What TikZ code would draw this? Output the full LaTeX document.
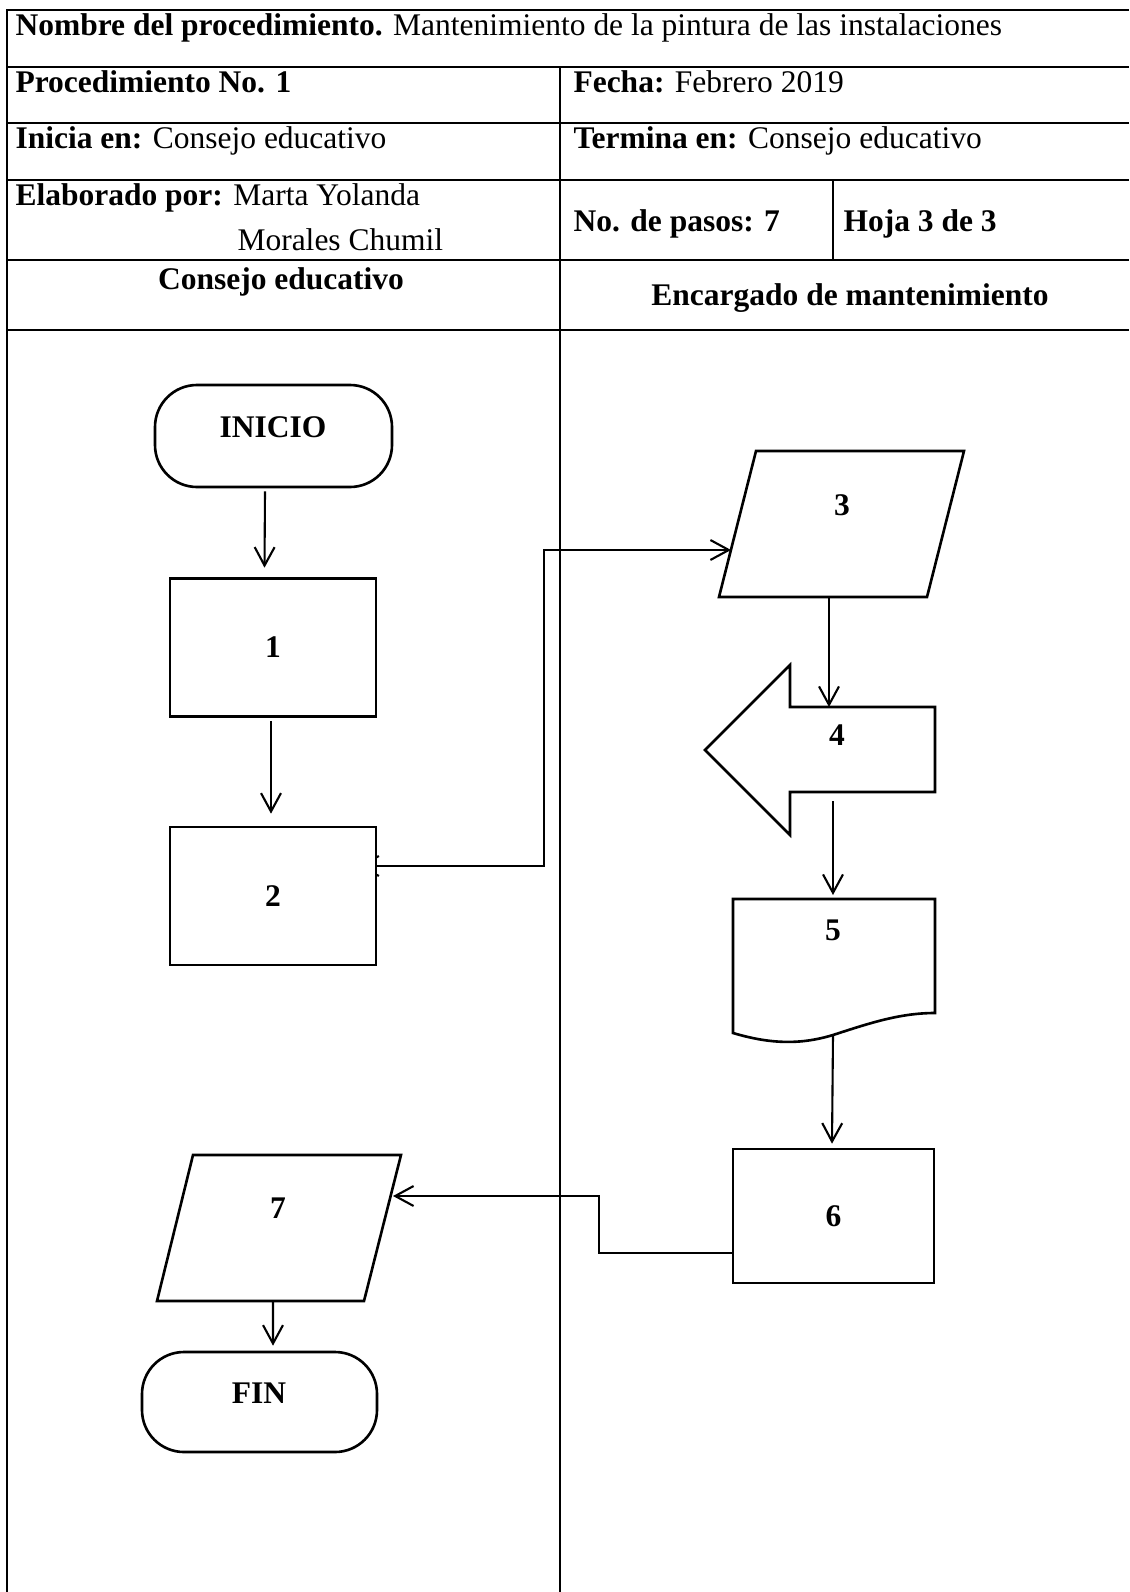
\documentclass[tikz,border=0pt]{standalone}
\usepackage{fontspec}
\setmainfont{Liberation Serif}
\usetikzlibrary{arrows.meta,calc}
\pgfdeclarelayer{bg}
\pgfsetlayers{bg,main}
\begin{document}
\begin{tikzpicture}[x=0.381pt,y=-0.381pt,
  font=\fontsize{12}{14.4}\selectfont,
  grid/.style={line width=0.76pt},
  shp/.style={draw, line width=1pt, fill=white, inner sep=0pt},
  box/.style={shp, rectangle, font=\fontsize{12}{14.4}\selectfont\bfseries},
  term/.style={shp, rectangle, rounded corners=16pt},
  txt/.style={inner sep=0pt, anchor=base west},
  hdr/.style={inner sep=0pt, anchor=base, font=\fontsize{12}{14.4}\selectfont\bfseries},
  lbl/.style={inner sep=0pt, font=\fontsize{12}{14.4}\selectfont\bfseries},
  conn/.style={line width=0.8pt, -{Straight Barb[length=7pt,width=7.6pt]}},
  conn2/.style={line width=0.8pt, {Straight Barb[length=7pt,width=7.6pt]}-{Straight Barb[length=7pt,width=7.6pt]}},
]
\useasboundingbox (0,0) rectangle (1129,1592);

% ---------- table grid ----------
\draw[grid] (7,1592) -- (7,10) -- (1129,10);
\foreach \yy in {67,123,180,260,330} \draw[grid] (7,\yy) -- (1129,\yy);
\draw[grid] (560,67) -- (560,1592);
\draw[grid] (833,180) -- (833,260);

% ---------- table texts ----------
\node[txt] (t1) at (15,36) {\textbf{Nombre del procedimiento.} Mantenimiento de la pintura de las instalaciones};
\node[txt] (t2) at (15,93) {\textbf{Procedimiento No. 1}};
\node[txt] (t3) at (573,93) {\textbf{Fecha:} Febrero 2019};
\node[txt] (t4) at (15,149) {\textbf{Inicia en:} Consejo educativo};
\node[txt] (t5) at (573,149) {\textbf{Termina en:} Consejo educativo};
\node[txt] (t6) at (15,206) {\textbf{Elaborado por:} Marta Yolanda};
\node[txt] (t7) at (237,250) {Morales Chumil};
\node[txt] (t8) at (573,231) {\textbf{No. de pasos: 7}};
\node[txt] (t9) at (843,231) {\textbf{Hoja 3 de 3}};
\node[hdr] (h1) at (281,289) {Consejo educativo};
\node[hdr] (h2) at (850,305) {Encargado de mantenimiento};

% ---------- left lane shapes ----------
\node[term, minimum width=237*0.381pt, minimum height=102*0.381pt] (inicio) at (273.5,436) {};
\node[lbl] (tinicio) at (273,427) {INICIO};
\node[box, minimum width=206*0.381pt, minimum height=138*0.381pt] (b1) at (273,647.5) {1};
\node[box, minimum width=206*0.381pt, minimum height=138*0.381pt] (b2) at (273,896) {2};

% parallelogram 7
\draw[shp] (157,1301) -- (364,1301) -- (401,1155) -- (193,1155) -- cycle;
\node[lbl] (p7) at (278,1208) {7};
\coordinate (p7e) at (393,1196);
\coordinate (p7s) at (273,1301);

\node[term, minimum width=235*0.381pt, minimum height=100*0.381pt] (fin) at (259.5,1402) {};
\node[lbl] (tfin) at (259,1393) {FIN};

% ---------- right lane shapes ----------
% parallelogram 3
\draw[shp] (719,597) -- (927,597) -- (964,451) -- (756,451) -- cycle;
\node[lbl] (p3) at (842,505) {3};
\coordinate (p3w) at (731,550);
\coordinate (p3s) at (829,597);

% block arrow 4
\draw[shp] (705,750) -- (790,665) -- (790,707) -- (935,707) -- (935,792)
  -- (790,792) -- (790,835) -- cycle;
\node[lbl] (a4) at (837,735) {4};
\coordinate (a4n) at (829,707);
\coordinate (a4s) at (833,801);

% document 5
\draw[shp] (733,899) -- (935,899) -- (935,1013)
  .. controls (900,1013) and (870,1023) .. (833,1035)
  .. controls (800,1045) and (770,1044) .. (733,1033) -- cycle;
\node[lbl] (d5) at (833,930) {5};
\coordinate (d5n) at (833,899);
\coordinate (d5s) at (833,1035);

\node[box, minimum width=201*0.381pt, minimum height=134*0.381pt] (b6) at (833.5,1216) {6};

% ---------- connectors ----------
\begin{pgfonlayer}{bg}
\draw[conn] ($(inicio.south)+(-8.5,3)$) -- ($(b1.north)+(-8.5,-9.5)$);
\draw[conn] ($(b1.south)+(-2,3)$) -- ($(b2.north)+(-2,-12)$);
\draw[conn2] ($(b2.east)+(-19,-30)$) -- ($(b2.east)+(0,-30)$) -| (544,550) -- (p3w);
\draw[conn] (p3s) -- (a4n);
\draw[conn] (a4s) -- ($(d5n)+(0,-4)$);
\draw[conn] (d5s) -- ($(b6.north)+(-1.5,-4)$);
\draw[conn] ($(b6.west)+(0,37)$) -- (599,1253) |- (p7e);
\draw[conn] (p7s) -- ($(fin.north)+(13.5,-5)$);
\end{pgfonlayer}
\end{tikzpicture}
\end{document}
